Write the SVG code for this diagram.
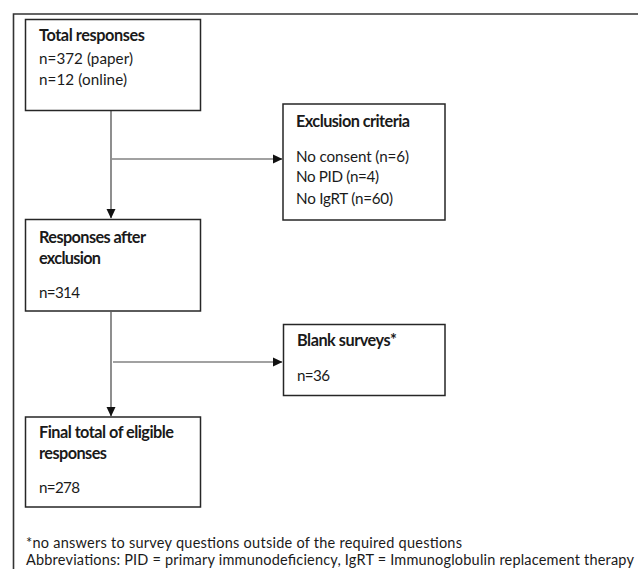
<svg xmlns="http://www.w3.org/2000/svg" width="638" height="569" viewBox="0 0 638 569">
<style>
.box{fill:#fff;stroke:#262626;stroke-width:1.5}
.t{font-family:Lato,"Liberation Sans",sans-serif;font-size:15.2px;fill:#1a1a1a}
.b{font-weight:bold;font-size:16.3px}
.n{font-size:14.5px}
.ln{stroke:#444;stroke-width:1.2;fill:none}
</style>
<defs>
<marker id="ah" markerWidth="10" markerHeight="10" refX="9" refY="5" orient="auto" markerUnits="userSpaceOnUse">
<path d="M0,0.5 L9.5,5 L0,9.5 Z" fill="#111"/>
</marker>
</defs>
<rect width="638" height="569" fill="#fff"/>
<path d="M13.5,569 V14 H638" fill="none" stroke="#333" stroke-width="1.6"/>
<g id="connectors">
<line class="ln" x1="111" y1="111" x2="111" y2="218" marker-end="url(#ah)"/>
<line class="ln" x1="112" y1="159" x2="282" y2="159" marker-end="url(#ah)"/>
<line class="ln" x1="111" y1="312" x2="111" y2="416" marker-end="url(#ah)"/>
<line class="ln" x1="113" y1="362" x2="282" y2="362" marker-end="url(#ah)"/>
</g>
<g id="total">
<rect class="box" x="25.5" y="19.5" width="175" height="91"/>
<text class="t b" x="39" y="41" textLength="106" lengthAdjust="spacing">Total responses</text>
<text class="t" x="39" y="64" textLength="94" lengthAdjust="spacing">n=372 (paper)</text>
<text class="t" x="39" y="85" textLength="88" lengthAdjust="spacing">n=12 (online)</text>
</g>
<g id="exclusion">
<rect class="box" x="283" y="104" width="162" height="116"/>
<text class="t b" x="296" y="127" textLength="114" lengthAdjust="spacing">Exclusion criteria</text>
<text class="t" x="296" y="162" textLength="113" lengthAdjust="spacing">No consent (n=6)</text>
<text class="t" x="296" y="182" textLength="83" lengthAdjust="spacing">No PID (n=4)</text>
<text class="t" x="296" y="204" textLength="97" lengthAdjust="spacing">No IgRT (n=60)</text>
</g>
<g id="after">
<rect class="box" x="25.5" y="219.5" width="175" height="91.5"/>
<text class="t b" x="39" y="243" textLength="107" lengthAdjust="spacing">Responses after</text>
<text class="t b" x="39" y="264" textLength="62" lengthAdjust="spacing">exclusion</text>
<text class="t" x="39" y="298" textLength="41" lengthAdjust="spacing">n=314</text>
</g>
<g id="blank">
<rect class="box" x="283.5" y="324.5" width="161.5" height="71"/>
<text class="t b" x="297" y="346" textLength="100" lengthAdjust="spacing">Blank surveys*</text>
<text class="t" x="297" y="381" textLength="33" lengthAdjust="spacing">n=36</text>
</g>
<g id="final">
<rect class="box" x="25.5" y="417" width="175" height="90"/>
<text class="t b" x="39" y="438" textLength="135" lengthAdjust="spacing">Final total of eligible</text>
<text class="t b" x="39" y="459" textLength="68" lengthAdjust="spacing">responses</text>
<text class="t" x="39" y="493" textLength="41" lengthAdjust="spacing">n=278</text>
</g>
<g id="notes">
<text class="t n" x="26" y="547.5" textLength="436" lengthAdjust="spacing">*no answers to survey questions outside of the required questions</text>
<text class="t n" x="26" y="565.2" textLength="608" lengthAdjust="spacing">Abbreviations: PID = primary immunodeficiency, IgRT = Immunoglobulin replacement therapy</text>
</g>
</svg>
